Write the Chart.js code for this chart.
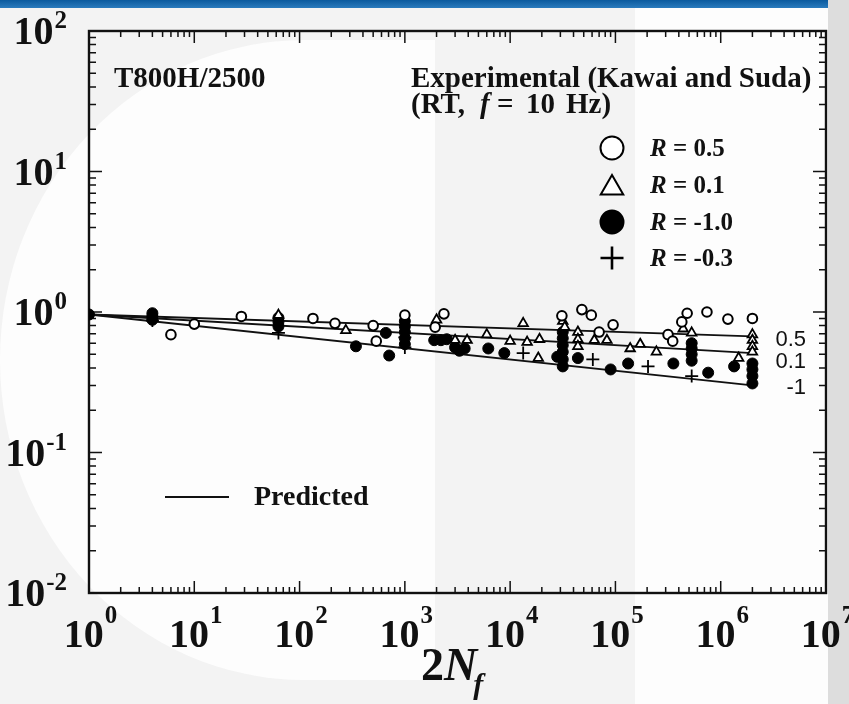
<!DOCTYPE html>
<html>
<head>
<meta charset="utf-8">
<script src="https://cdn.jsdelivr.net/npm/chart.js@4.4.0/dist/chart.umd.min.js"></script>
<style>
  body { margin: 0; background: #f3f3f3; }
  #wrap { position: relative; width: 849px; height: 704px; overflow: hidden; }
  .band { position: absolute; }
  #banner { left: 0; top: 0; width: 828px; height: 8px; background: linear-gradient(#0b5a9e, #2a7bbd); }
  #lightL { left: 0; top: 40px; width: 435px; height: 640px; background: #fdfdfd; border-radius: 70% 0 0 70% / 50% 0 0 50%; }
  #lightR { left: 635px; top: 8px; width: 193px; height: 696px; background: #fdfdfd; }
  #strip { left: 828px; top: 0; width: 21px; height: 704px; background: #dddddd; }
  canvas { position: absolute; left: 0; top: 0; }
</style>
</head>
<body>
<div id="wrap">
  <div class="band" id="banner"></div>
  <div class="band" id="lightL"></div>
  <div class="band" id="lightR"></div>
  <div class="band" id="strip"></div>
  <canvas id="myChart" width="849" height="704"></canvas>
</div>
<script>
// reversals to failure (2Nf) and normalised max stress, one pair of arrays per R ratio
var r05Life = [6, 10, 28, 134, 217, 500, 535, 1000, 1940, 2350, 31000, 48000, 59000, 70000, 95000, 316000, 350000, 427000, 480000, 740000, 1170000, 2000000];
var r05Stress = [0.69, 0.82, 0.93, 0.90, 0.83, 0.80, 0.62, 0.95, 0.78, 0.97, 0.94, 1.04, 0.95, 0.72, 0.81, 0.69, 0.62, 0.85, 0.98, 1.00, 0.89, 0.90];

var r01Life = [63, 275, 2000, 3000, 3900, 6000, 10000, 13300, 14500, 18500, 19000, 31600, 33000, 44000, 44000, 44000, 63000, 83000, 138000, 172000, 245000, 440000, 530000, 1480000, 2000000, 2000000, 2000000, 2000000];
var r01Stress = [0.95, 0.74, 0.88, 0.63, 0.63, 0.69, 0.62, 0.83, 0.61, 0.47, 0.64, 0.86, 0.78, 0.72, 0.64, 0.57, 0.63, 0.63, 0.55, 0.59, 0.52, 0.76, 0.71, 0.47, 0.69, 0.63, 0.57, 0.52];

var rm10Life = [1, 4, 4, 4, 63, 63, 63, 343, 660, 710, 1000, 1000, 1000, 1000, 1000, 1900, 2200, 2500, 3000, 3300, 3700, 6200, 8800, 28000, 31600, 31600, 31600, 31600, 31600, 31600, 44000, 90000, 132000, 355000, 530000, 530000, 530000, 530000, 760000, 1340000, 2000000, 2000000, 2000000, 2000000];
var rm10Stress = [0.96, 0.98, 0.93, 0.88, 0.91, 0.85, 0.79, 0.57, 0.71, 0.49, 0.86, 0.79, 0.72, 0.65, 0.59, 0.63, 0.63, 0.64, 0.56, 0.53, 0.55, 0.55, 0.51, 0.48, 0.72, 0.65, 0.58, 0.52, 0.46, 0.41, 0.47, 0.39, 0.43, 0.43, 0.60, 0.55, 0.50, 0.45, 0.37, 0.41, 0.43, 0.39, 0.35, 0.31];

var rm03Life = [4, 63, 1000, 1000, 13300, 61000, 204000, 530000];
var rm03Stress = [0.87, 0.71, 0.66, 0.56, 0.51, 0.46, 0.41, 0.35];

// predicted curves, straight on log-log axes
var predLife = [1, 2000000];
var pred05 = [0.96, 0.67];
var pred01 = [0.96, 0.51];
var predM10 = [0.96, 0.30];
var predTags = ['0.5', '0.1', '-1'];

var xExponents = [0, 1, 2, 3, 4, 5, 6, 7];
var yExponents = [-2, -1, 0, 1, 2];

var keyLabels = ['0.5', '0.1', '-1.0', '-0.3'];
var keyStyles = ['circle', 'triangle', 'circle', 'cross'];
var keyFills = ['#fff', '#fff', '#000', '#000'];

var serif = "'Liberation Serif', 'Times New Roman', serif";

function toPoints(xs, ys) {
  var pts = [];
  for (var i = 0; i < xs.length; i++) {
    pts.push({ x: xs[i], y: ys[i] });
  }
  return pts;
}

function markerSet(label, xs, ys, style, fill, radius, bw) {
  return {
    label: label,
    data: toPoints(xs, ys),
    pointStyle: style,
    pointRadius: radius,
    pointBackgroundColor: fill,
    pointBorderColor: '#000',
    pointBorderWidth: bw,
    showLine: false,
    order: 1
  };
}

function lineSet(label, ys) {
  return {
    label: label,
    data: toPoints(predLife, ys),
    showLine: true,
    borderColor: '#111',
    borderWidth: 1.8,
    pointRadius: 0,
    order: 5
  };
}

// inward ticks on all four sides plus the box
function drawFrame(chart) {
  var ctx = chart.ctx, a = chart.chartArea;
  var sx = chart.scales.x, sy = chart.scales.y;
  ctx.save();
  ctx.strokeStyle = '#111';
  ctx.lineWidth = 2.4;
  ctx.strokeRect(a.left, a.top, a.right - a.left, a.bottom - a.top);
  ctx.lineWidth = 1.5;
  ctx.beginPath();
  for (var i = 0; i < xExponents.length - 1; i++) {
    for (var m = 1; m < 10; m++) {
      var px = sx.getPixelForValue(m * Math.pow(10, xExponents[i]));
      var len = m == 1 ? 12 : 6;
      ctx.moveTo(px, a.bottom); ctx.lineTo(px, a.bottom - len);
      ctx.moveTo(px, a.top); ctx.lineTo(px, a.top + len);
    }
  }
  for (var j = 0; j < yExponents.length - 1; j++) {
    for (var n = 1; n < 10; n++) {
      var py = sy.getPixelForValue(n * Math.pow(10, yExponents[j]));
      var ylen = n == 1 ? 13 : 7;
      ctx.moveTo(a.left, py); ctx.lineTo(a.left + ylen, py);
      ctx.moveTo(a.right, py); ctx.lineTo(a.right - ylen, py);
    }
  }
  ctx.stroke();
  ctx.restore();
}

function drawPieces(ctx, x, y, pieces) {
  for (var i = 0; i < pieces.length; i++) {
    ctx.font = pieces[i][0];
    ctx.fillText(pieces[i][1], x, y);
    x += ctx.measureText(pieces[i][1]).width;
  }
  return x;
}

function drawLabels(chart) {
  var ctx = chart.ctx;
  var sx = chart.scales.x, sy = chart.scales.y;
  var baseFont = 'bold 40px ' + serif;
  var expFont = 'bold 25px ' + serif;
  ctx.save();
  ctx.fillStyle = '#111';
  ctx.textBaseline = 'alphabetic';
  ctx.textAlign = 'left';

  // x decade labels
  xExponents.forEach(function (e) {
    var px = sx.getPixelForValue(Math.pow(10, e));
    ctx.font = baseFont;
    var w1 = ctx.measureText('10').width;
    ctx.font = expFont;
    var w2 = ctx.measureText(String(e)).width;
    var x0 = px - (w1 + w2) / 2 + 1;
    ctx.font = baseFont;
    ctx.fillText('10', x0, 647);
    ctx.font = expFont;
    ctx.fillText(String(e), x0 + w1 + 1, 623);
  });

  // y decade labels
  yExponents.forEach(function (e) {
    var py = sy.getPixelForValue(Math.pow(10, e));
    var exp = e < 0 ? '-' + (-e) : String(e);
    ctx.font = expFont;
    var w2 = ctx.measureText(exp).width;
    ctx.font = baseFont;
    var w1 = ctx.measureText('10').width;
    var x0 = 66 - w2 - w1;
    ctx.fillText('10', x0, py + 13);
    ctx.font = expFont;
    ctx.fillText(exp, x0 + w1 + 1, py - 3);
  });

  // x axis title 2N_f
  var tx = drawPieces(ctx, 421, 680, [['bold 46px ' + serif, '2'], ['italic bold 46px ' + serif, 'N']]);
  ctx.font = 'italic bold 30px ' + serif;
  ctx.fillText('f', tx - 4, 694);

  // material and test conditions
  ctx.font = 'bold 29px ' + serif;
  ctx.fillText('T800H/2500', 114, 87);
  ctx.fillText('Experimental (Kawai and Suda)', 411, 87);
  ctx.fillText('(RT,', 411, 113);
  ctx.font = 'italic bold 29px ' + serif;
  ctx.fillText('f', 480, 113);
  ctx.font = 'bold 29px ' + serif;
  ctx.fillText('=', 497, 113);
  ctx.fillText('10', 526, 113);
  ctx.fillText('Hz)', 566, 113);

  // tags at the end of each predicted line
  ctx.font = '22px "Liberation Sans", Arial, sans-serif';
  ctx.textAlign = 'right';
  var tagY = [338, 360, 386];
  for (var i = 0; i < predTags.length; i++) {
    ctx.fillText(predTags[i], 806, tagY[i] + 8);
  }
  ctx.restore();
}

// symbol key and the predicted-line key
function drawKey(chart) {
  var ctx = chart.ctx;
  var rows = [148, 185, 222, 258];
  ctx.save();
  ctx.textAlign = 'left';
  for (var i = 0; i < keyLabels.length; i++) {
    ctx.fillStyle = keyFills[i];
    ctx.strokeStyle = '#000';
    ctx.lineWidth = keyStyles[i] == 'cross' ? 2.6 : 2;
    Chart.helpers.drawPoint(ctx, {
      pointStyle: keyStyles[i],
      radius: keyStyles[i] == 'triangle' ? 13 : 11.5,
      borderWidth: ctx.lineWidth,
      rotation: 0
    }, 612, rows[i] + (keyStyles[i] == 'triangle' ? 3 : 0));
    ctx.fillStyle = '#111';
    drawPieces(ctx, 650, rows[i] + 8, [
      ['italic bold 25px ' + serif, 'R'],
      ['bold 25px ' + serif, ' = ' + keyLabels[i]]
    ]);
  }
  ctx.strokeStyle = '#111';
  ctx.lineWidth = 1.8;
  ctx.beginPath();
  ctx.moveTo(165, 497);
  ctx.lineTo(229, 497);
  ctx.stroke();
  ctx.font = 'bold 28px ' + serif;
  ctx.fillText('Predicted', 254, 505);
  ctx.restore();
}

var paper = {
  id: 'paper',
  beforeDatasetsDraw: function (chart) { drawFrame(chart); },
  afterDraw: function (chart) { drawLabels(chart); drawKey(chart); }
};

const chart_data = {
  datasets: [
    lineSet('Predicted R=0.5', pred05),
    lineSet('Predicted R=0.1', pred01),
    lineSet('Predicted R=-1', predM10),
    markerSet('R = 0.5', r05Life, r05Stress, 'circle', '#fff', 4.8, 2),
    markerSet('R = 0.1', r01Life, r01Stress, 'triangle', '#fff', 5.5, 1.8),
    markerSet('R = -1.0', rm10Life, rm10Stress, 'circle', '#000', 5.5, 1),
    markerSet('R = -0.3', rm03Life, rm03Stress, 'cross', '#000', 6.5, 1.8)
  ]
};

const config = {
  type: 'scatter',
  data: chart_data,
  options: {
    responsive: false,
    animation: false,
    layout: { padding: { left: 89, top: 31, right: 23, bottom: 111 } },
    plugins: { legend: { display: false }, tooltip: { enabled: false } },
    scales: {
      x: { type: 'logarithmic', min: 1, max: 1e7, display: false },
      y: { type: 'logarithmic', min: 0.01, max: 100, display: false }
    }
  },
  plugins: [paper]
};

const myChart = new Chart(document.getElementById('myChart'), config);
</script>
</body>
</html>
